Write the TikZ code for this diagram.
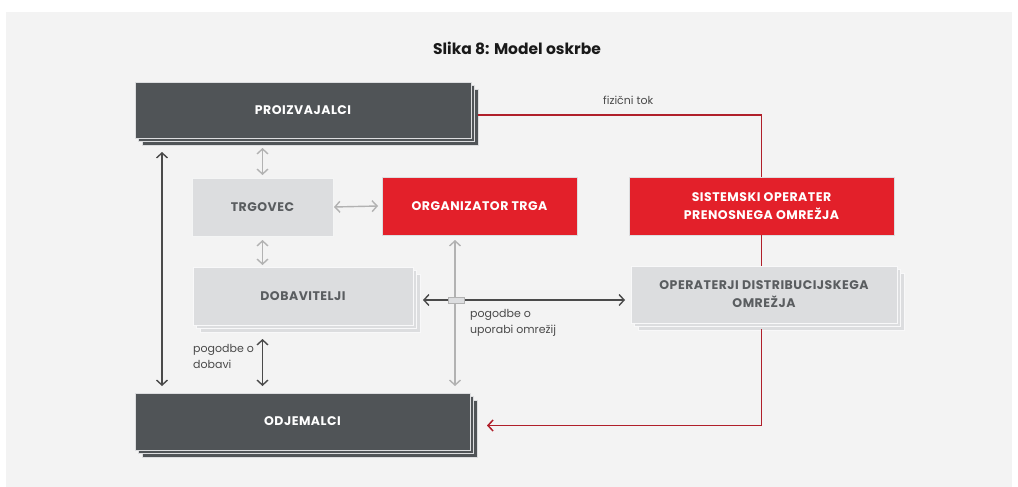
\documentclass[tikz,border=0pt]{standalone}
\usepackage{fontspec}
\setmainfont{Poppins}
\newfontfamily\boxfont[LetterSpace=4]{Poppins}
\usetikzlibrary{arrows.meta,shadows}
\definecolor{panel}{HTML}{F3F3F3}
\definecolor{darkbox}{HTML}{505457}
\definecolor{lightbox}{HTML}{DCDDDF}
\definecolor{redbox}{HTML}{E3202A}
\definecolor{redline}{HTML}{B01F2A}
\definecolor{darkline}{HTML}{4A4A4A}
\definecolor{lightline}{HTML}{B2B2B2}
\definecolor{boxtext}{HTML}{5A5D60}

\begin{document}
\begin{tikzpicture}[x=1pt,y=-1pt,
    box/.style ={rectangle, font=\boxfont\fontsize{12.5}{18}\selectfont\bfseries, align=center, inner sep=0pt, outer sep=0pt},
    darkstack/.style ={box, fill=darkbox, draw=lightbox, line width=0.8pt, text=white,
      double copy shadow={shadow xshift=3.5pt, shadow yshift=-3.5pt}},
    lightstack/.style ={box, fill=lightbox, draw=white!80!lightbox, line width=0.8pt, text=boxtext,
      double copy shadow={shadow xshift=3.5pt, shadow yshift=-3.5pt}},
    lightbox/.style ={box, fill=lightbox, draw=white!70!lightbox, line width=0.8pt, text=boxtext},
    redbox/.style ={box, fill=redbox, draw=lightbox, line width=0.8pt, text=white},
    darkarrow/.style ={darkline, line width=1.4pt, {Straight Barb[length=5pt,width=11pt]}-{Straight Barb[length=5pt,width=11pt]}},
    lightarrow/.style ={lightline, line width=1.4pt, {Straight Barb[length=5pt,width=11pt]}-{Straight Barb[length=5pt,width=11pt]}},
    redarrow/.style ={redline, line width=1.5pt},
    label/.style ={font=\fontsize{11}{16}\selectfont, text=darkline, align=left, inner sep=0pt}]
   \fill[white] (0,0) rectangle (1018,487);
   \fill[panel] (6,12) rectangle (1012,487);
   \node[font=\fontsize{15.5}{18}\selectfont\bfseries, text=black!90] (title) at (517,48) {Slika 8: Model oskrbe};
   \node[darkstack, minimum width=336pt, minimum height=56pt] (prod) at (303,110) {PROIZVAJALCI};
   \node[lightbox, minimum width=141pt, minimum height=58pt] (trader) at (262.5,207) {TRGOVEC};
   \node[redbox, minimum width=195pt, minimum height=58pt] (mo) at (479.5,206) {ORGANIZATOR TRGA};
   \node[lightstack, minimum width=220pt, minimum height=58pt] (supp) at (303,296) {DOBAVITELJI};
   \node[redbox, minimum width=265pt, minimum height=58pt] (tso) at (761.5,206) {SISTEMSKI OPERATER\\PRENOSNEGA OMREŽJA};
   \node[lightstack, minimum width=266pt, minimum height=57pt] (dso) at (764,294.5) {OPERATERJI DISTRIBUCIJSKEGA\\OMREŽJA};
   \node[darkstack, minimum width=335pt, minimum height=57pt] (cons) at (302.5,421.5) {ODJEMALCI};
   \coordinate (mx) at (455,0);
   \draw[darkarrow] ([xshift=27pt,yshift=-14pt]prod.south west) to ([xshift=27pt,yshift=7pt]cons.north west);
   \draw[lightarrow] ([yshift=-10pt]prod.south -| trader) to ([yshift=3pt]trader.north);
   \draw[lightarrow] ([yshift=-4pt]trader.south) to ([yshift=2pt]supp.north -| trader);
   \draw[lightarrow] ([xshift=1pt]trader.east) to ([xshift=-4pt]mo.west);
   \draw[lightarrow] ([yshift=-5pt]mo.south -| mx) to ([yshift=7pt]cons.north -| mx);
   \draw[darkarrow] ([yshift=-14pt]supp.south -| trader) to ([yshift=7pt]cons.north -| trader);
   \draw[darkarrow] ([xshift=10pt,yshift=-4pt]supp.east) to ([xshift=-6pt,yshift=-4pt]supp.east -| dso.west);
   \node[draw=lightline, fill=lightbox, minimum width=16pt, minimum height=6pt, inner sep=0pt] (bridge) at (456,300) {};
   \draw[redarrow] ([xshift=7pt,yshift=-5pt]prod.east) -| (tso.north);
   \draw[redarrow] (tso.south) to (tso.south |- dso.north);
   \draw[redarrow, -{Straight Barb[length=5pt,width=11pt]}] ([yshift=-6pt]tso.south |- dso.south) |- ([xshift=17pt,yshift=-4pt]cons.east);
   \node[label, anchor=west] (flow) at (603,100) {fizični tok};
   \node[label, anchor=north west] (netlbl) at (470,309) {pogodbe o\\uporabi omrežij};
   \node[label, anchor=north west] (supplbl) at (193,344) {pogodbe o\\dobavi};
 \end{tikzpicture}
\end{document}
